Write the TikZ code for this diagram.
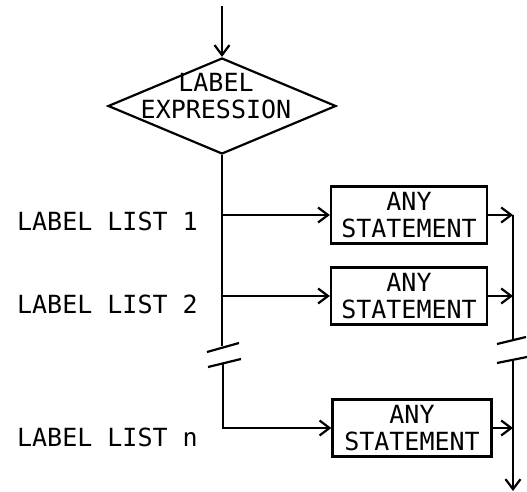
\documentclass[tikz,border=0pt]{standalone}
\usepackage{fontspec}
\newfontfamily\plotfont{DejaVu Sans Mono}
\usetikzlibrary{shapes.geometric,arrows.meta}
\begin{document}
\begin{tikzpicture}[x=1pt,y=-1pt,
  line width=2.2pt,
  every node/.style={font=\plotfont\fontsize{25}{27}\selectfont},
  stmt/.style={draw, minimum width=156pt, minimum height=57pt, inner sep=0pt, align=center},
  dec/.style={draw, diamond, minimum width=228pt, minimum height=96pt, inner sep=0pt},
  lbl/.style={anchor=west, inner sep=0pt},
  flow/.style={-{Straight Barb[length=10pt,width=15pt]}}
]
\useasboundingbox (0,0) rectangle (527,492);
% decision
\node[dec] (d) at (222,106) {};
\node[align=center, inner sep=0pt] (dt) at (216,96) {LABEL\\EXPRESSION};
\coordinate (top) at (222,6);
\draw[flow] (top) -- (d.north);
% statements
\node[stmt] (s1) at (409,215) {ANY\\STATEMENT};
\node[stmt] (s2) at (409,296) {ANY\\STATEMENT};
\node[stmt, minimum width=159pt] (s3) at (412,428) {ANY\\STATEMENT};
% labels
\node[lbl] (l1) at (16,221) {LABEL LIST 1};
\node[lbl] (l2) at (16,304) {LABEL LIST 2};
\node[lbl] (l3) at (16,437) {LABEL LIST n};
% main line
\coordinate (j1) at (d.south |- s1.west);
\coordinate (j2) at (d.south |- s2.west);
\coordinate (bk1) at (222,346);
\coordinate (bk2) at (223,363);
\coordinate (c3) at (bk2 |- s3.west);
\draw (d.south) -- (bk1);
\draw[flow] (j1) -- (s1.west);
\draw[flow] (j2) -- (s2.west);
\draw[flow] (bk2) -- (c3) -- (s3.west);
\draw (207,352) -- (239,343);
\draw (208,367) -- (241,359);
% collector
\coordinate (rx) at (513,0);
\coordinate (rb1) at (513,340);
\coordinate (rb2) at (513,360);
\coordinate (rend) at (513,491);
\draw[flow] (s1.east) -- (s1.east -| rx);
\draw[flow] (s2.east) -- (s2.east -| rx);
\draw[flow] (s3.east) -- (s3.east -| rx);
\draw (s1.east -| rx) -- (rb1);
\draw[flow] (rb2) -- (rend);
\draw (497,344) -- (526,337);
\draw (497,363) -- (527,357);
\end{tikzpicture}
\end{document}
